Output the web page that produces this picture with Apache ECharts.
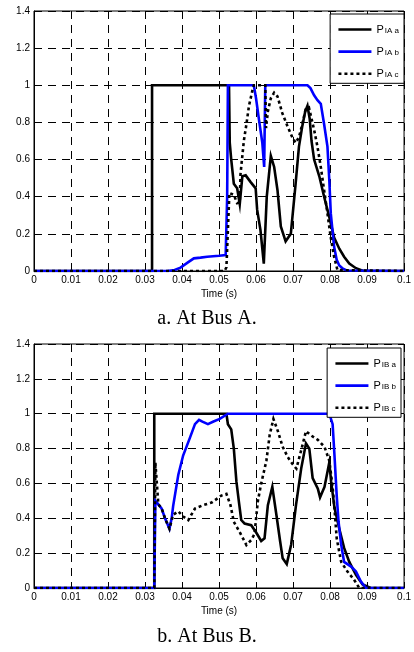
<!DOCTYPE html>
<html>
<head>
<meta charset="utf-8">
<script src="https://cdn.jsdelivr.net/npm/echarts@6/dist/echarts.min.js"></script>
<style>
html,body{margin:0;padding:0;background:#fff;}
#c{width:414px;height:652px;}
</style>
</head>
<body>
<div id="c"></div>
<script>
// ---------- Data ----------
var xTicks = [0, 0.01, 0.02, 0.03, 0.04, 0.05, 0.06, 0.07, 0.08, 0.09, 0.1];
var yTicks = [0, 0.2, 0.4, 0.6, 0.8, 1, 1.2, 1.4];

// Bus A
var tA_a = [0, 0.0319, 0.0319, 0.0527, 0.0529, 0.0533, 0.0540, 0.0549, 0.0556, 0.0563, 0.0572, 0.0585, 0.0599, 0.0603, 0.0612, 0.0621, 0.0629, 0.0640, 0.0649, 0.0658, 0.0667, 0.0680, 0.0694, 0.0707, 0.0716, 0.0725, 0.0733, 0.0739, 0.0745, 0.0750, 0.0757, 0.0771, 0.0784, 0.0798, 0.0811, 0.0825, 0.0838, 0.0852, 0.0870, 0.0890, 0.1];
var vA_a = [0, 0, 1, 1, 0.69, 0.60, 0.47, 0.445, 0.36, 0.51, 0.515, 0.48, 0.445, 0.33, 0.22, 0.04, 0.40, 0.62, 0.56, 0.435, 0.24, 0.16, 0.20, 0.47, 0.67, 0.78, 0.86, 0.89, 0.82, 0.70, 0.60, 0.51, 0.40, 0.29, 0.18, 0.12, 0.077, 0.04, 0.015, 0, 0];

var tA_b = [0, 0.0360, 0.0380, 0.0396, 0.0415, 0.0432, 0.0450, 0.0468, 0.0500, 0.0518, 0.0522, 0.0524, 0.0594, 0.0600, 0.0609, 0.0617, 0.0622, 0.0625, 0.0739, 0.0747, 0.0757, 0.0766, 0.0775, 0.0784, 0.0793, 0.0798, 0.0802, 0.0811, 0.0818, 0.0825, 0.0835, 0.0845, 0.1];
var vA_b = [0, 0, 0.005, 0.018, 0.045, 0.068, 0.072, 0.077, 0.082, 0.086, 0.40, 1, 1, 0.93, 0.80, 0.69, 0.56, 1, 1, 0.985, 0.946, 0.92, 0.90, 0.79, 0.67, 0.49, 0.31, 0.13, 0.06, 0.03, 0.012, 0.003, 0];

var tA_c = [0, 0.0515, 0.0520, 0.0528, 0.0540, 0.0549, 0.0556, 0.0558, 0.0563, 0.0567, 0.0574, 0.0581, 0.0590, 0.0594, 0.0625, 0.0627, 0.0632, 0.0640, 0.0649, 0.0658, 0.0671, 0.0685, 0.0698, 0.0707, 0.0716, 0.0725, 0.0734, 0.0743, 0.0750, 0.0757, 0.0766, 0.0775, 0.0784, 0.0793, 0.0802, 0.0811, 0.0820, 0.1];
var vA_c = [0, 0, 0.02, 0.42, 0.41, 0.365, 0.37, 0.52, 0.62, 0.70, 0.79, 0.89, 0.97, 1.0, 1.0, 0.77, 0.86, 0.93, 0.96, 0.94, 0.85, 0.78, 0.72, 0.69, 0.72, 0.79, 0.87, 0.88, 0.82, 0.76, 0.67, 0.56, 0.435, 0.31, 0.18, 0.077, 0.005, 0];

// Bus B
var tB_a = [0, 0.0325, 0.0325, 0.0520, 0.0524, 0.0533, 0.0540, 0.0547, 0.0554, 0.0560, 0.0569, 0.0587, 0.0600, 0.0614, 0.0623, 0.0632, 0.0644, 0.0655, 0.0665, 0.0672, 0.0683, 0.0695, 0.0708, 0.0722, 0.0735, 0.0744, 0.0753, 0.0767, 0.0773, 0.0785, 0.0798, 0.0803, 0.0812, 0.0825, 0.0838, 0.0852, 0.0870, 0.0888, 0.0910, 0.1];
var vB_a = [0, 0, 1, 1, 0.94, 0.91, 0.80, 0.61, 0.49, 0.39, 0.37, 0.36, 0.32, 0.27, 0.285, 0.475, 0.58, 0.42, 0.27, 0.17, 0.137, 0.25, 0.475, 0.685, 0.83, 0.80, 0.63, 0.57, 0.52, 0.58, 0.72, 0.61, 0.46, 0.34, 0.23, 0.15, 0.076, 0.02, 0, 0];

var tB_b = [0, 0.0325, 0.0328, 0.0336, 0.0345, 0.0354, 0.0366, 0.0372, 0.0376, 0.0383, 0.0390, 0.0403, 0.0421, 0.0435, 0.0446, 0.0455, 0.0470, 0.0485, 0.0502, 0.0524, 0.0798, 0.0807, 0.0812, 0.0818, 0.0823, 0.0830, 0.0838, 0.0857, 0.0870, 0.0883, 0.0897, 0.1];
var vB_b = [0, 0, 0.5, 0.48, 0.456, 0.40, 0.34, 0.40, 0.47, 0.56, 0.65, 0.76, 0.86, 0.94, 0.965, 0.955, 0.94, 0.955, 0.97, 1, 1, 0.94, 0.76, 0.53, 0.38, 0.25, 0.15, 0.123, 0.095, 0.038, 0, 0];

var tB_c = [0, 0.0325, 0.0328, 0.0332, 0.0336, 0.0345, 0.0354, 0.0366, 0.0376, 0.0390, 0.0403, 0.0417, 0.0435, 0.0457, 0.0480, 0.0506, 0.0520, 0.0531, 0.0540, 0.0556, 0.0574, 0.0587, 0.0596, 0.0605, 0.0614, 0.0628, 0.0637, 0.0647, 0.0659, 0.0672, 0.0686, 0.0699, 0.0709, 0.0722, 0.0735, 0.0749, 0.0767, 0.0785, 0.0798, 0.0807, 0.0812, 0.0818, 0.0830, 0.0847, 0.0865, 0.0879, 0.1];
var vB_c = [0, 0, 0.72, 0.60, 0.48, 0.456, 0.40, 0.34, 0.42, 0.44, 0.41, 0.39, 0.456, 0.475, 0.49, 0.53, 0.54, 0.475, 0.38, 0.32, 0.247, 0.275, 0.31, 0.50, 0.60, 0.73, 0.88, 0.97, 0.90, 0.81, 0.75, 0.71, 0.685, 0.79, 0.90, 0.875, 0.85, 0.81, 0.73, 0.58, 0.456, 0.285, 0.15, 0.095, 0.047, 0, 0];

var namesA = ['IA a', 'IA b', 'IA c'];
var namesB = ['IB a', 'IB b', 'IB c'];
var captions = ['a. At Bus A.', 'b. At Bus B.'];
var xTitle = 'Time (s)';

// ---------- Chart ----------
function zip(t, v) { return t.map(function (x, i) { return [x, v[i]]; }); }
var FONT = 'Liberation Sans, Arial, sans-serif';

var grids = [
  { left: 34, width: 371, top: 11, height: 260, show: true, borderColor: '#000', borderWidth: 1, backgroundColor: 'transparent' },
  { left: 34, width: 371, top: 344, height: 244, show: true, borderColor: '#000', borderWidth: 1, backgroundColor: 'transparent' }
];

function xAx(i) {
  return {
    type: 'value', gridIndex: i, min: xTicks[0], max: xTicks[xTicks.length - 1], interval: xTicks[1] - xTicks[0],
    name: xTitle, nameLocation: 'middle', nameGap: 18,
    nameTextStyle: { color: '#000', fontSize: 10, fontFamily: FONT },
    axisLine: { show: true, lineStyle: { color: '#000', width: 1 } },
    axisTick: { show: true, inside: true, length: 3, lineStyle: { color: '#000' } },
    axisLabel: { color: '#000', fontSize: 10, fontFamily: FONT, margin: 4,
      formatter: function (v) { return String(+v.toFixed(2)); } },
    splitLine: { show: true, lineStyle: { color: '#000', width: 1, type: [8, 6] } }
  };
}
function yAx(i) {
  return {
    type: 'value', gridIndex: i, min: yTicks[0], max: yTicks[yTicks.length - 1], interval: yTicks[1] - yTicks[0],
    axisLine: { show: true, lineStyle: { color: '#000', width: 1 } },
    axisTick: { show: true, inside: true, length: 3, lineStyle: { color: '#000' } },
    axisLabel: { color: '#000', fontSize: 10, fontFamily: FONT, margin: 4,
      formatter: function (v) { return String(+v.toFixed(1)); } },
    splitLine: { show: true, lineStyle: { color: '#000', width: 1, type: [8, 6] } }
  };
}

var styles = [
  { color: '#000000', type: 'solid' },
  { color: '#0000ff', type: 'solid' },
  { color: '#000000', type: [3, 3] }
];

function mkSeries(name, data, gi, k) {
  return {
    type: 'line', name: name, xAxisIndex: gi, yAxisIndex: gi, data: data,
    symbol: 'none', showSymbol: false, animation: false, z: 2 + k,
    lineStyle: { color: styles[k].color, width: 2.6, type: styles[k].type, cap: 'butt', join: 'miter' },
    itemStyle: { color: styles[k].color }
  };
}

var series = [
  mkSeries(namesA[0], zip(tA_a, vA_a), 0, 0),
  mkSeries(namesA[1], zip(tA_b, vA_b), 0, 1),
  mkSeries(namesA[2], zip(tA_c, vA_c), 0, 2),
  mkSeries(namesB[0], zip(tB_a, vB_a), 1, 0),
  mkSeries(namesB[1], zip(tB_b, vB_b), 1, 1),
  mkSeries(namesB[2], zip(tB_c, vB_c), 1, 2)
];

function mkLegend(names, top, right) {
  return {
    data: names, orient: 'vertical', top: top, right: right,
    backgroundColor: '#fff', borderColor: '#000', borderWidth: 1, borderRadius: 0,
    padding: [6, 5, 4, 7], itemGap: 7, itemWidth: 33, itemHeight: 14, itemTextGap: 4,
    selectedMode: false,
    itemStyle: { color: 'rgba(0,0,0,0)', borderColor: 'rgba(0,0,0,0)', borderWidth: 0, opacity: 0 },
    lineStyle: { width: 2.6 },
    formatter: function (n) { return '{p|P}{s|' + n + '}'; },
    textStyle: {
      color: '#000', fontFamily: FONT,
      rich: {
        p: { fontSize: 11, fontFamily: FONT, color: '#000', verticalAlign: 'top', lineHeight: 11 },
        s: { fontSize: 8, fontFamily: FONT, color: '#000', verticalAlign: 'bottom', lineHeight: 8, padding: [7, 0, 0, 1] }
      }
    }
  };
}

var option = {
  animation: false,
  backgroundColor: '#fff',
  grid: grids,
  xAxis: [xAx(0), xAx(1)],
  yAxis: [yAx(0), yAx(1)],
  legend: [mkLegend(namesA, 14, 10), mkLegend(namesB, 348, 13)],
  series: series,
  graphic: [
    { type: 'text', left: 'center', top: 309, style: { text: captions[0], fill: '#000', font: '20px "Liberation Serif", "Times New Roman", serif' } },
    { type: 'text', left: 'center', top: 627, style: { text: captions[1], fill: '#000', font: '20px "Liberation Serif", "Times New Roman", serif' } }
  ]
};

var chart = echarts.init(document.getElementById('c'), null, { renderer: 'canvas' });
chart.setOption(option);
</script>
</body>
</html>
